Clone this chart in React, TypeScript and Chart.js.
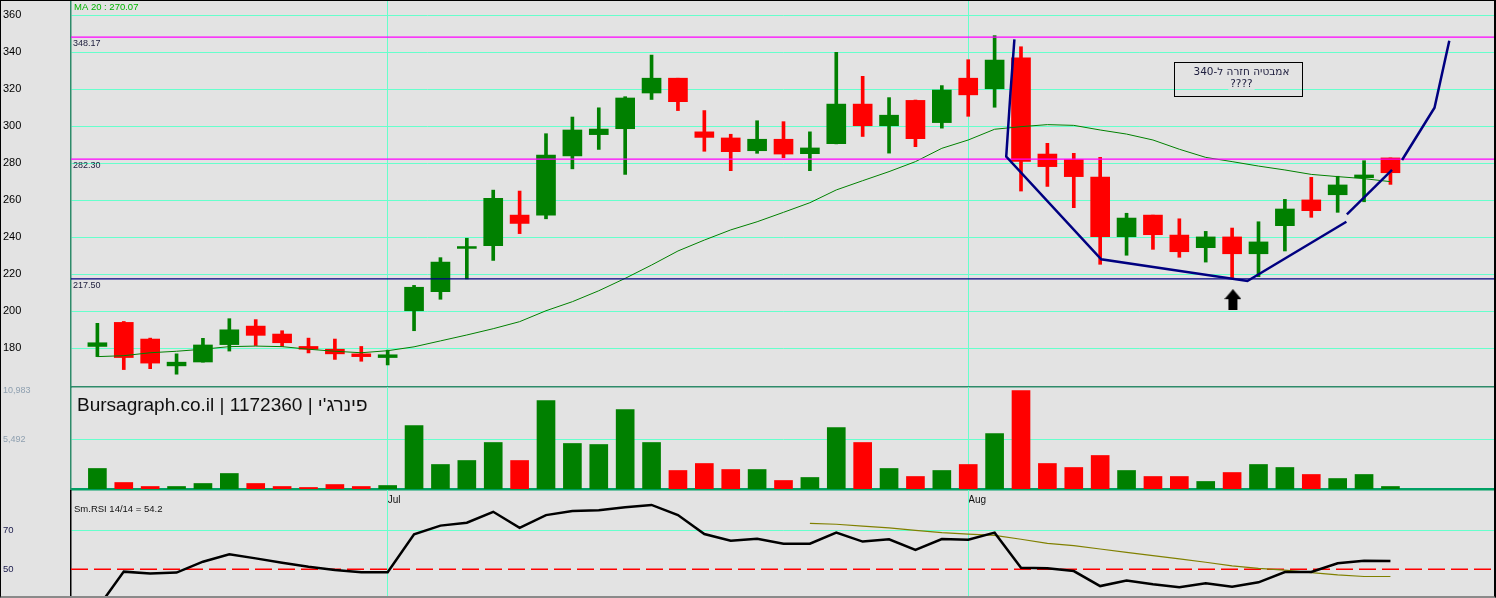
import { useEffect, useRef } from 'react';
import { Chart, registerables } from 'chart.js';

Chart.register(...registerables);

const FONT = 'Arial, "Liberation Sans", sans-serif';
const BG = '#e3e3e3';
const GRID = '#66ffcc';
const GREEN = '#008000';
const RED = '#ff0000';
const NAVY = '#000080';
const FRAME = '#2e8b6a';

// x is the candle index
const X_MIN = -1;
const X_MAX = 53;

const OPEN = [
  181, 194, 185, 170.5, 172.6, 182, 192, 187.7, 181, 179.5, 177, 175,
  200.3, 210.6, 234, 235.5, 252, 252, 284, 295.5, 298.7, 318, 326, 297,
  293.7, 286.8, 293, 285.2, 290.6, 312, 300.3, 314, 302, 326, 320.3, 337,
  285, 282, 272.6, 240.3, 252, 241.2, 234.4, 240.2, 231.1, 246.3, 260.2, 263,
  272.2, 282.9,
];
const HIGH = [
  193.5, 194.5, 185.5, 177, 185.4, 196, 195.5, 189.5, 185.5, 185, 181, 179,
  214, 229, 239.5, 265.5, 265, 296, 305, 310, 316, 338.5, 326, 308.5,
  295.7, 303, 302.5, 297, 340, 327, 315.5, 314.2, 322, 336, 349, 343,
  290.8, 285.4, 283.2, 253, 252, 250, 243.2, 245, 248.4, 260.5, 272.4, 273,
  281.4, 282.9,
];
const LOW = [
  175.5, 168.5, 169, 166, 172.5, 178.5, 181.5, 181, 177.5, 174, 173, 171,
  189.5, 206.5, 217.5, 227.5, 242, 250, 277, 287.5, 274, 314.5, 308.5, 286.5,
  276, 285.4, 283, 276, 290.5, 294.5, 285.5, 289, 299, 305.4, 310.3, 265,
  267.5, 256, 225.4, 230.3, 233.5, 229.2, 226.6, 218.2, 218.7, 232.6, 250.8, 253.5,
  259.2, 268.6,
];
const CLOSE = [
  183, 175, 172, 172.5, 181.8, 190, 187, 183, 179.5, 177, 175.5, 176.5,
  213, 226.6, 235, 261, 247.5, 284.5, 298, 298.5, 315.3, 326, 313.3, 294,
  286.3, 293, 285, 288.3, 312, 300.3, 306, 293.3, 319.6, 317, 335.8, 281,
  278.2, 272.8, 240.3, 250.4, 241.4, 232.2, 240.2, 231.1, 237.5, 255.3, 254.4, 268.3,
  273.7, 274.9,
];
const MA20 = [
  175.5, 176, 177.6, 178.4, 179.5, 180.9, 181.2, 180.9, 179.5, 178.4, 177.6, 178.7,
  180.8, 184, 187.2, 190.6, 194.4, 200.3, 205.2, 211.1, 217.8, 225, 232.6, 238.5,
  244, 248.4, 253.5, 258.7, 265.6, 270.6, 275.5, 280.9, 288.1, 292.6, 298.4, 299.8,
  300.9, 300.5, 298, 295.8, 292.6, 287.6, 283.2, 280.9, 278.5, 276.4, 274, 272.8,
  271.7, 270.07,
];
const VOLUME = [
  2290, 725, 280, 280, 615, 1730, 615, 280, 170, 500, 280, 390,
  7090, 2735, 3180, 5190, 3180, 9880, 5080, 4965, 8870, 5190, 2065, 2845,
  2175, 2175, 950, 1285, 6865, 5190, 2290, 1395, 2065, 2735, 6195, 10983,
  2845, 2400, 3740, 2065, 1395, 1395, 840, 1840, 2735, 2400, 1620, 1170,
  1620, 280,
];
const RSI = [
  30, 48.8, 47.9, 48.3, 53.9, 57.7, 55.6, 53.4, 51.3, 49.6, 48.5, 48.5,
  68, 72.4, 73.9, 79.5, 71.3, 77.8, 79.9, 80.3, 81.8, 83, 77.8, 68.1,
  64.7, 65.7, 63.1, 63.1, 68.8, 64.2, 65.4, 59.9, 65.5, 65.2, 68.8, 50.8,
  50.5, 49.1, 41.4, 44.2, 42.3, 40.8, 42.8, 41.1, 43.3, 48.6, 48.6, 53.1,
  54.4, 54.2,
];
const RSI_SIGNAL_START = 27;
const RSI_SIGNAL = [
  73.6, 73.1, 72.1, 71.2, 70, 68.8, 68, 67.4, 65.4, 63.3, 62.1, 60.4,
  58.7, 57, 55.3, 53.6, 51.8, 50.5, 49.6, 48.3, 47.1, 46.3, 46.3,
];
const RSI_MID = 50;

const MONTH_TICKS = [11, 33];
const MONTH_LABELS = ['Jul', 'Aug'];
const PRICE_TICKS = [180, 200, 220, 240, 260, 280, 300, 320, 340, 360];
const VOLUME_TICKS = [5492, 10983];
const RSI_TICKS = [50, 70];

const PRICE_MIN = 159.08;
const PRICE_MAX = 368.27;
const VOLUME_MAX = 11384;
const RSI_MIN = 36.3;
const RSI_MAX = 90.67;

const LEVELS = [348.17, 282.3, 217.5];
const LEVEL_COLORS = ['#ff00ff', '#ff00ff', NAVY];

// hand drawn trend lines (candle index, price)
const TREND_A_X = [34.75, 34.6, 34.44, 38.04, 43.58, 47.33];
const TREND_A_Y = [347, 318, 283.6, 228.1, 216.4, 248.4];
const TREND_B_X = [47.35, 49.06];
const TREND_B_Y = [252.4, 276.4];
const TREND_C_X = [49.44, 50.67, 51.23];
const TREND_C_Y = [281.8, 310.05, 346.3];

const ARROW_X = 43.03;
const ARROW_Y = 206.3;

const NOTE_X = 43.24;
const NOTE_Y = 325.6;
const NOTE_LINES = ['אמבטיה חזרה ל-340', '????'];

const TITLE = "Bursagraph.co.il | 1172360 | פינרג'י";

const pts = (xs: number[], ys: number[]) => xs.map((x, i) => ({ x, y: ys[i] }));

const fixedAxis = (s: any) => {
  s.width = 68;
  s.paddingTop = 0;
  s.paddingBottom = 0;
};
const flatX = (s: any) => {
  s.paddingLeft = 0;
  s.paddingRight = 0;
};
const monthTicks = (s: any) => {
  s.ticks = MONTH_TICKS.map((v) => ({ value: v }));
};

export default function App() {
  const priceRef = useRef<HTMLCanvasElement>(null);
  const volumeRef = useRef<HTMLCanvasElement>(null);
  const rsiRef = useRef<HTMLCanvasElement>(null);

  useEffect(() => {
    if (!priceRef.current || !volumeRef.current || !rsiRef.current) return;
    Chart.defaults.font.family = FONT;

    const candleColors = OPEN.map((o, i) => (CLOSE[i] >= o ? GREEN : RED));
    const volumeColors = CLOSE.map((c, i) => (c >= (i === 0 ? OPEN[0] : CLOSE[i - 1]) ? GREEN : RED));

    const arrow = document.createElement('canvas');
    arrow.width = 17;
    arrow.height = 21;
    const ag = arrow.getContext('2d')!;
    ag.fillStyle = '#000';
    ag.beginPath();
    ag.moveTo(8.5, 0);
    ag.lineTo(17, 10);
    ag.lineTo(0, 10);
    ag.closePath();
    ag.fill();
    ag.fillRect(4, 10, 9, 11);

    const priceOverlay = {
      id: 'priceOverlay',
      afterDatasetsDraw(chart: any) {
        const { ctx, chartArea, scales } = chart;
        const { x, y } = scales;
        ctx.save();
        ctx.textBaseline = 'middle';
        ctx.textAlign = 'left';
        ctx.font = `9.5px ${FONT}`;
        ctx.fillStyle = '#00b400';
        ctx.fillText(`MA 20 : ${MA20[MA20.length - 1].toFixed(2)}`, chartArea.left + 3, chartArea.top + 7.3);
        ctx.font = `9px ${FONT}`;
        ctx.fillStyle = '#1c1c3c';
        LEVELS.forEach((lv) => ctx.fillText(lv.toFixed(2), chartArea.left + 2, y.getPixelForValue(lv) + 6.3));

        const cx = x.getPixelForValue(NOTE_X);
        const cy = y.getPixelForValue(NOTE_Y);
        ctx.font = `10.5px "DejaVu Sans", ${FONT}`;
        ctx.textAlign = 'center';
        NOTE_LINES.forEach((t: string, k: number) => {
          const ty = cy - 6.8 + k * 12.6;
          const w = ctx.measureText(t).width;
          ctx.fillStyle = BG;
          ctx.fillRect(cx + 3 - w / 2 - 2, ty - 5, w + 4, 10);
          ctx.fillStyle = '#202040';
          ctx.fillText(t, cx + 3, ty);
        });
        ctx.strokeStyle = '#000';
        ctx.lineWidth = 1;
        ctx.strokeRect(Math.round(cx - 64) + 0.5, Math.round(cy - 17) + 0.5, 128, 34);
        ctx.restore();
      },
    };

    const volumeOverlay = {
      id: 'volumeOverlay',
      afterDatasetsDraw(chart: any) {
        const { ctx, chartArea } = chart;
        ctx.save();
        ctx.font = `19px ${FONT}`;
        ctx.textAlign = 'left';
        ctx.textBaseline = 'alphabetic';
        ctx.fillStyle = '#101010';
        ctx.fillText(TITLE, chartArea.left + 6, chartArea.top + 23.7);
        ctx.restore();
      },
    };

    const rsiOverlay = {
      id: 'rsiOverlay',
      afterDatasetsDraw(chart: any) {
        const { ctx, chartArea } = chart;
        ctx.save();
        ctx.font = `9.5px ${FONT}`;
        ctx.textAlign = 'left';
        ctx.textBaseline = 'middle';
        ctx.fillStyle = '#101010';
        ctx.fillText(`Sm.RSI 14/14 = ${RSI[RSI.length - 1].toFixed(1)}`, chartArea.left + 3, chartArea.top + 19.3);
        ctx.restore();
      },
    };

    const common = {
      responsive: true,
      maintainAspectRatio: false,
      animation: false as const,
      events: [] as any[],
      plugins: { legend: { display: false }, tooltip: { enabled: false } },
    };

    const price = new Chart(priceRef.current, {
      type: 'bar',
      data: {
        datasets: [
          { type: 'scatter', data: [{ x: ARROW_X, y: ARROW_Y }], pointStyle: arrow, pointRadius: 10, order: 1 } as any,
          { type: 'line', data: pts(TREND_A_X, TREND_A_Y), borderColor: NAVY, borderWidth: 2.5, pointRadius: 0, fill: false, order: 2 },
          { type: 'line', data: pts(TREND_B_X, TREND_B_Y), borderColor: NAVY, borderWidth: 2.5, pointRadius: 0, fill: false, order: 2 },
          { type: 'line', data: pts(TREND_C_X, TREND_C_Y), borderColor: NAVY, borderWidth: 2.5, pointRadius: 0, fill: false, order: 2 },
          ...LEVELS.map((lv, k) => ({
            type: 'line' as const,
            data: [{ x: X_MIN, y: lv }, { x: X_MAX, y: lv }],
            borderColor: LEVEL_COLORS[k],
            borderWidth: 1.2,
            pointRadius: 0,
            fill: false,
            order: 4,
          })),
          { type: 'line', data: MA20.map((v, i) => ({ x: i, y: v })), borderColor: GREEN, borderWidth: 1, pointRadius: 0, fill: false, order: 5 },
          {
            type: 'bar',
            data: OPEN.map((o, i) => ({ x: i, y: [Math.min(o, CLOSE[i]), Math.max(o, CLOSE[i])] })),
            backgroundColor: candleColors,
            maxBarThickness: 19,
            barPercentage: 1,
            categoryPercentage: 1,
            grouped: false,
            order: 9,
          } as any,
          {
            type: 'bar',
            data: HIGH.map((h, i) => ({ x: i, y: [LOW[i], h] })),
            backgroundColor: candleColors,
            maxBarThickness: 3,
            barPercentage: 1,
            categoryPercentage: 1,
            grouped: false,
            order: 10,
          } as any,
        ],
      },
      options: {
        ...common,
        layout: { autoPadding: false, padding: { left: 3, right: 0, top: 0, bottom: 2 } },
        scales: {
          x: {
            type: 'linear',
            min: X_MIN,
            max: X_MAX,
            offset: false,
            grid: { offset: false, color: GRID, drawTicks: false },
            border: { display: true, color: FRAME, width: 1.5 },
            ticks: { display: false },
            afterBuildTicks: monthTicks,
            afterFit: flatX,
          },
          y: {
            type: 'linear',
            position: 'left',
            min: PRICE_MIN,
            max: PRICE_MAX,
            beginAtZero: false,
            grid: { color: GRID, drawTicks: false },
            border: { color: FRAME, width: 1.5 },
            ticks: { color: '#000', font: { size: 11 }, crossAlign: 'far', padding: 0, autoSkip: false },
            afterBuildTicks: (s: any) => {
              s.ticks = PRICE_TICKS.map((v) => ({ value: v }));
            },
            afterFit: fixedAxis,
          },
        },
      } as any,
      plugins: [priceOverlay],
    });

    const volume = new Chart(volumeRef.current, {
      type: 'bar',
      data: {
        datasets: [
          {
            data: VOLUME.map((v, i) => ({ x: i, y: v })),
            backgroundColor: volumeColors,
            maxBarThickness: 18,
            barPercentage: 1,
            categoryPercentage: 1,
            grouped: false,
          } as any,
        ],
      },
      options: {
        ...common,
        layout: { autoPadding: false, padding: { left: 3, right: 0, top: 10, bottom: 0 } },
        scales: {
          x: {
            type: 'linear',
            min: X_MIN,
            max: X_MAX,
            offset: false,
            grid: { offset: false, color: GRID, drawTicks: false },
            border: { display: true, color: '#00a064', width: 2.5 },
            ticks: {
              display: true,
              align: 'start',
              color: '#111',
              font: { size: 10 },
              padding: 5,
              maxRotation: 0,
              autoSkip: false,
              callback: (v: any) => MONTH_LABELS[MONTH_TICKS.indexOf(Number(v))],
            },
            afterBuildTicks: monthTicks,
            afterFit: flatX,
          },
          y: {
            type: 'linear',
            position: 'left',
            min: 0,
            max: VOLUME_MAX,
            grid: { color: (c: any) => (c.index === 0 ? GRID : 'rgba(0,0,0,0)'), drawTicks: false },
            border: { color: FRAME, width: 1.5 },
            ticks: {
              color: '#8fa0b0',
              font: { size: 9 },
              crossAlign: 'far',
              padding: 0,
              autoSkip: false,
              callback: (v: any) => Number(v).toLocaleString('en-US'),
            },
            afterBuildTicks: (s: any) => {
              s.ticks = VOLUME_TICKS.map((v) => ({ value: v }));
            },
            afterFit: fixedAxis,
          },
        },
      } as any,
      plugins: [volumeOverlay],
    });

    const rsi = new Chart(rsiRef.current, {
      type: 'line',
      data: {
        datasets: [
          { data: RSI.map((v, i) => ({ x: i, y: v })), borderColor: '#000', borderWidth: 2.5, pointRadius: 0, fill: false },
          {
            data: RSI_SIGNAL.map((v, i) => ({ x: i + RSI_SIGNAL_START, y: v })),
            borderColor: '#808000',
            borderWidth: 1.2,
            pointRadius: 0,
            fill: false,
          },
          {
            data: [{ x: X_MIN, y: RSI_MID }, { x: X_MAX, y: RSI_MID }],
            borderColor: '#ff0000',
            borderWidth: 1.5,
            borderDash: [17, 6],
            pointRadius: 0,
            fill: false,
          },
        ],
      },
      options: {
        ...common,
        layout: { autoPadding: false, padding: { left: 3, right: 0, top: 0, bottom: 0 } },
        scales: {
          x: {
            type: 'linear',
            min: X_MIN,
            max: X_MAX,
            offset: false,
            grid: { offset: false, color: GRID, drawTicks: false },
            border: { display: false },
            ticks: { display: false },
            afterBuildTicks: monthTicks,
            afterFit: flatX,
          },
          y: {
            type: 'linear',
            position: 'left',
            min: RSI_MIN,
            max: RSI_MAX,
            grid: { color: (c: any) => (c.tick && c.tick.value === 70 ? GRID : 'rgba(0,0,0,0)'), drawTicks: false },
            border: { color: '#000', width: 1.5 },
            ticks: { color: '#202050', font: { size: 9.5 }, crossAlign: 'far', padding: 0, autoSkip: false },
            afterBuildTicks: (s: any) => {
              s.ticks = RSI_TICKS.map((v) => ({ value: v }));
            },
            afterFit: fixedAxis,
          },
        },
      } as any,
      plugins: [rsiOverlay],
    });

    return () => {
      price.destroy();
      volume.destroy();
      rsi.destroy();
    };
  }, []);

  return (
    <div style={{ position: 'absolute', left: 0, top: 0, width: 1496, height: 598, background: BG, overflow: 'hidden' }}>
      <div style={{ position: 'absolute', left: 0, top: 0, width: 1496, height: 389 }}>
        <canvas ref={priceRef} />
      </div>
      <div style={{ position: 'absolute', left: 0, top: 377, width: 1496, height: 134 }}>
        <canvas ref={volumeRef} />
      </div>
      <div style={{ position: 'absolute', left: 0, top: 490, width: 1496, height: 106 }}>
        <canvas ref={rsiRef} />
      </div>
      <div
        style={{
          position: 'absolute',
          left: 0,
          top: 0,
          width: 1496,
          height: 598,
          boxSizing: 'border-box',
          borderTop: '1px solid #000',
          borderLeft: '1px solid #000',
          borderRight: '2px solid #000',
          borderBottom: '2px solid #8a8a8a',
          pointerEvents: 'none',
        }}
      />
    </div>
  );
}
